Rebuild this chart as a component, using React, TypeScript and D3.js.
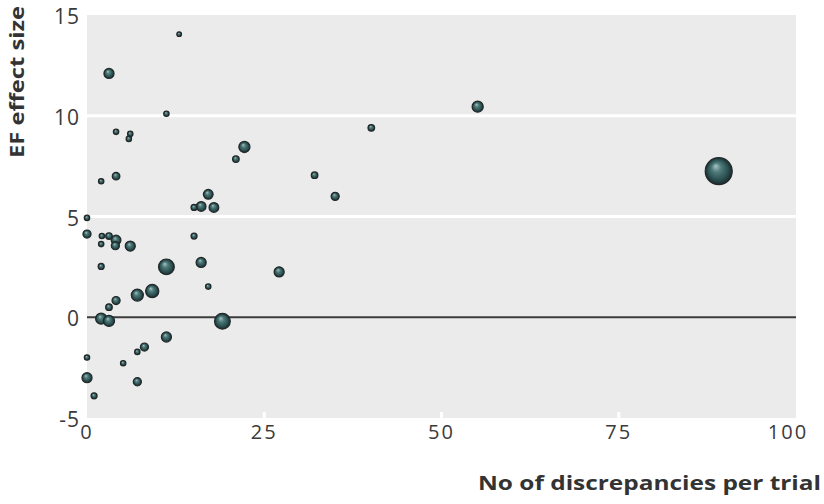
import * as d3 from 'd3';

// trial values
const discrepancies = [
  13, 3.1, 11.2, 4.1, 6.1, 5.9, 55.1, 40.1, 22.2, 21.0, 32.1, 89.1,
  4.1, 2.0, 17.1, 35.0, 16.1, 15.1, 17.9, 0, 0, 2.1, 3.1, 4.1,
  2.0, 4.0, 6.1, 15.1, 2.0, 11.2, 16.1, 27.1, 17.1, 9.2, 7.1, 4.1,
  3.1, 2.0, 3.1, 19.1, 11.2, 8.1, 7.1, 0, 5.1, 0, 7.1, 1.0,
];
const effectSizes = [
  14.05, 12.1, 10.1, 9.2, 9.1, 8.85, 10.45, 9.4, 8.45, 7.85, 7.05, 7.25,
  7.0, 6.75, 6.1, 6.0, 5.5, 5.45, 5.45, 4.93, 4.13, 4.03, 4.03, 3.83,
  3.63, 3.55, 3.53, 4.03, 2.52, 2.5, 2.72, 2.25, 1.52, 1.3, 1.1, 0.83,
  0.5, -0.07, -0.18, -0.2, -0.98, -1.48, -1.72, -2.0, -2.28, -3.0, -3.2, -3.9,
];
const weights = [
  3, 14, 4, 4, 4, 4, 17, 6, 17, 6, 6, 100,
  8, 4, 13, 9, 13, 5, 13, 4, 9, 4, 6, 13,
  4, 9, 14, 5, 5, 34, 14, 14, 4, 24, 20, 9,
  6, 17, 17, 34, 14, 9, 4, 4, 4, 14, 9, 5,
];
const xTicks = [0, 25, 50, 75, 100];
const yTicks = [-5, 0, 5, 10, 15];

const width = 824;
const height = 504;
const left = 87;
const right = 796;
const top = 15;
const bottom = 418;
const font = '"Open Sans", "DejaVu Sans", sans-serif';

const App = () => {
  const x = d3.scaleLinear().domain([0, 100]).range([left, right]);
  const y = d3.scaleLinear().domain([-5, 15]).range([bottom, top]);
  const r = d3.scaleSqrt().domain([0, 100]).range([0, 13.5]);

  // big bubbles first so the small ones stay visible
  const points = discrepancies
    .map((d, i) => ({ x: d, y: effectSizes[i], w: weights[i] }))
    .sort((a, b) => b.w - a.w);

  return (
    <svg width={width} height={height} style={{ position: 'absolute', left: 0, top: 0 }}>
      <defs>
        <radialGradient id="ball" cx="0.5" cy="0.5" r="0.5" fx="0.38" fy="0.3">
          <stop offset="0%" stopColor="#a9c4c4" />
          <stop offset="35%" stopColor="#4f7a7a" />
          <stop offset="75%" stopColor="#2b4f50" />
          <stop offset="100%" stopColor="#1a2b2c" />
        </radialGradient>
      </defs>

      {/* plot background */}
      <rect x={left} y={top} width={right - left} height={bottom - top} fill="#ebebeb" />

      {/* grid lines */}
      {yTicks.filter(t => t > 0 && t < 15).map(t => (
        <line key={t} x1={left} x2={right} y1={y(t)} y2={y(t)} stroke="#fff" strokeWidth={3} />
      ))}
      {xTicks.filter(t => t > 0 && t < 100).map(t => (
        <line key={t} x1={x(t)} x2={x(t)} y1={bottom - 6} y2={bottom} stroke="#fff" strokeWidth={3} />
      ))}
      <line x1={left} x2={right} y1={y(0)} y2={y(0)} stroke="#3c3c3c" strokeWidth={2} />

      {/* y tick labels */}
      {yTicks.map(t => (
        <text key={t} x={80} y={y(t) + 9} textAnchor="end" fontFamily={font} fontSize={21}
          fill="#3a3a3a" letterSpacing={1}>
          {t}
        </text>
      ))}

      {/* x tick labels */}
      {xTicks.map(t => (
        <text key={t} x={x(t) + (t === 100 ? -8 : 0)} y={439} textAnchor="middle" fontFamily={font}
          fontSize={20} fill="#3a3a3a" letterSpacing={2}>
          {t}
        </text>
      ))}

      {/* axis titles */}
      <text x={821} y={490} textAnchor="end" fontFamily={font} fontSize={20} fontWeight="bold"
        fill="#333" textLength={343} lengthAdjust="spacingAndGlyphs">
        No of discrepancies per trial
      </text>
      <text transform="translate(24, 6) rotate(-90)" textAnchor="end" fontFamily={font} fontSize={20}
        fontWeight="bold" fill="#333" textLength={152} lengthAdjust="spacingAndGlyphs">
        EF effect size
      </text>

      {/* bubbles */}
      {points.map((p, i) => (
        <circle key={i} cx={x(p.x)} cy={y(p.y)} r={r(p.w)} fill="url(#ball)"
          stroke="#222829" strokeWidth={1.2} />
      ))}
    </svg>
  );
};

export default App;
